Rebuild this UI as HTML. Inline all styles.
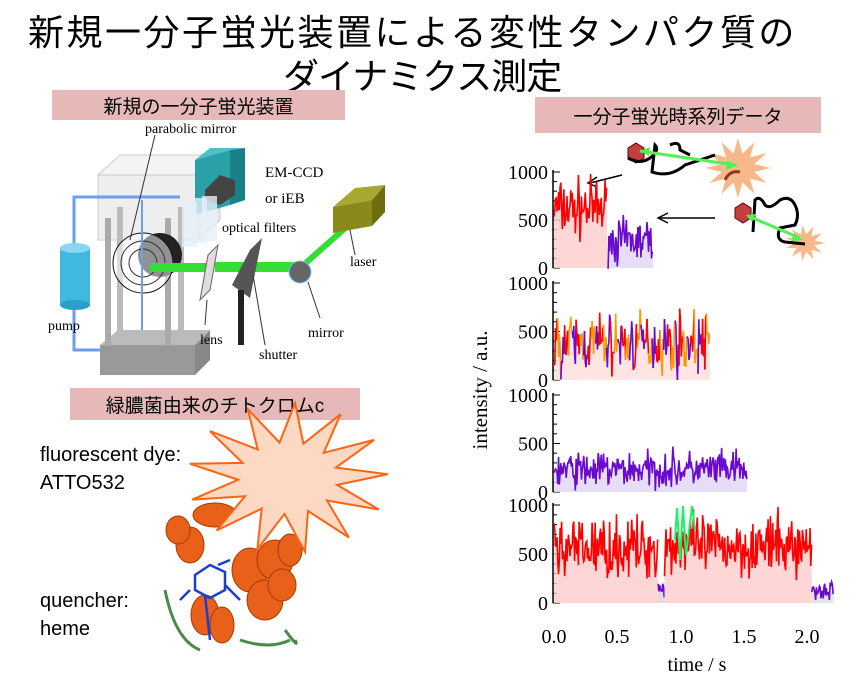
<!DOCTYPE html>
<html><head><meta charset="utf-8"><style>
body{margin:0;width:860px;height:677px;background:#fff;overflow:hidden;position:relative;font-family:"Liberation Sans","Noto Sans CJK JP",sans-serif}
.t{position:absolute;white-space:nowrap;color:#000}
.pk{position:absolute;background:#e6b9b8;font-size:19px;display:flex;align-items:center;justify-content:center}
</style></head><body>
<div class="t" style="left:28px;top:4px;font-size:36px;letter-spacing:2.5px">新規一分子蛍光装置による変性タンパク質の</div>
<div class="t" style="left:283px;top:48px;font-size:36px;letter-spacing:-1px">ダイナミクス測定</div>
<div class="pk" style="left:52px;top:90px;width:293px;height:30px">新規の一分子蛍光装置</div>
<div class="pk" style="left:535px;top:97px;width:286px;height:36px">一分子蛍光時系列データ</div>
<div class="pk" style="left:70px;top:388px;width:290px;height:32px">緑膿菌由来のチトクロムc</div>
<div class="t" style="left:40px;top:444px;font-size:20px">fluorescent dye:</div>
<div class="t" style="left:40px;top:472px;font-size:20px">ATTO532</div>
<div class="t" style="left:40px;top:590px;font-size:20px">quencher:</div>
<div class="t" style="left:40px;top:618px;font-size:20px">heme</div>
<svg id="s" width="860" height="677" style="position:absolute;left:0;top:0" font-family="Liberation Serif,serif">
<rect x="98" y="175" width="100" height="65" fill="#eee" stroke="#ccc"/>
<polygon points="98,175 120,155 220,155 198,175" fill="#f4f4f4" stroke="#ccc"/>
<polygon points="198,175 220,155 220,220 198,240" fill="#e8e8e8" stroke="#ccc"/>
<path d="M110,197 H180 M74,245 V197 H110 M74,300 V350 H100" stroke="#6d9eeb" stroke-width="3" fill="none"/>
<rect x="60" y="248" width="30" height="57" fill="#41b8e0"/><ellipse cx="75" cy="248" rx="15" ry="5" fill="#8ad6f0"/><ellipse cx="75" cy="305" rx="15" ry="5" fill="#2aa0c8"/>
<rect x="100" y="345" width="95" height="30" fill="#999"/><polygon points="100,345 118,330 210,330 195,345" fill="#bbb"/><polygon points="195,345 210,330 210,360 195,375" fill="#888"/>
<rect x="105" y="218" width="6" height="128" fill="#aaa"/><rect x="117" y="207" width="6" height="130" fill="#bbb"/><rect x="165" y="218" width="6" height="128" fill="#aaa"/><rect x="178" y="207" width="6" height="130" fill="#bbb"/>
<circle cx="160" cy="255" r="22" fill="#222"/>
<circle cx="143" cy="263" r="30" fill="#fff" fill-opacity=".5" stroke="#111"/><circle cx="143" cy="263" r="22" fill="none" stroke="#333"/><circle cx="143" cy="263" r="14" fill="none" stroke="#333"/>
<line x1="142" y1="200" x2="142" y2="330" stroke="#6d9eeb" stroke-width="2"/>
<line x1="155" y1="135" x2="130" y2="240" stroke="#333"/>
<polygon points="195,160 230,150 230,205 195,215" fill="#2aa0a8"/><polygon points="195,160 210,148 245,148 230,150" fill="#4cc0c6"/><polygon points="230,150 245,148 245,200 230,205" fill="#1a8088"/>
<polygon points="205,190 220,175 235,180 235,195 220,205 205,200" fill="#444"/>
<rect x="182" y="202" width="15" height="45" fill="#e5f0f8" opacity=".8"/><rect x="192" y="198" width="15" height="45" fill="#e5f0f8" opacity=".8"/><rect x="202" y="196" width="15" height="45" fill="#e5f0f8" opacity=".8"/>
<polygon points="150,263 210,263 210,272 150,272" fill="#33dd33"/>
<polygon points="215,262 300,262 300,272 215,272" fill="#33dd33"/>
<line x1="300" y1="268" x2="352" y2="222" stroke="#33dd33" stroke-width="6"/>
<polygon points="208,255 218,245 210,290 200,300" fill="#ddd" stroke="#666"/>
<polygon points="250,250 262,238 250,298 232,285" fill="#555"/><rect x="238" y="290" width="6" height="55" fill="#222"/>
<circle cx="300" cy="272" r="11" fill="#666" stroke="#6cf"/>
<polygon points="333,207 372,200 372,226 333,233" fill="#8a8a1a"/><polygon points="333,207 355,188 385,185 372,200" fill="#a8a830"/><polygon points="372,200 385,185 385,212 372,226" fill="#6e6e10"/>
<line x1="350" y1="230" x2="355" y2="255" stroke="#333"/><line x1="308" y1="282" x2="320" y2="318" stroke="#333"/><line x1="253" y1="275" x2="265" y2="345" stroke="#333"/><line x1="207" y1="300" x2="205" y2="325" stroke="#333"/>
<g font-size="14"><text x="145" y="133">parabolic mirror</text><text x="265" y="177" font-size="15">EM-CCD</text><text x="265" y="203" font-size="15">or iEB</text><text x="222" y="232">optical filters</text><text x="350" y="266">laser</text><text x="308" y="337">mirror</text><text x="259" y="359">shutter</text><text x="200" y="344">lens</text><text x="48" y="330">pump</text></g>
<!-- protein -->
<g fill="#e8601a" stroke="#a83a00" stroke-width="1">
<ellipse cx="215" cy="515" rx="22" ry="12"/><ellipse cx="190" cy="545" rx="14" ry="18"/><ellipse cx="178" cy="530" rx="12" ry="14"/>
<ellipse cx="250" cy="570" rx="18" ry="22"/><ellipse cx="275" cy="560" rx="18" ry="20"/><ellipse cx="265" cy="600" rx="18" ry="20"/><ellipse cx="290" cy="550" rx="12" ry="16"/><ellipse cx="282" cy="585" rx="14" ry="16"/>
<ellipse cx="205" cy="615" rx="14" ry="20"/><ellipse cx="222" cy="625" rx="12" ry="18"/></g>
<g stroke="#1a3fcc" stroke-width="2.5" fill="none"><path d="M195,575 L210,565 L225,572 L225,590 L210,598 L195,590 Z M205,595 L210,640 M218,565 L230,560 M190,590 L180,600 M225,585 L240,600"/></g>
<path d="M165,590 Q175,640 200,650 M285,630 Q300,650 295,640 M240,640 Q270,650 290,640" stroke="#4a8a4a" stroke-width="3" fill="none"/>
<polygon id="star" fill="#fdd8c2" stroke="#ff6314" stroke-width="2"/>
<polygon id="sb1" fill="#f9b88a"/><polygon id="sb2" fill="#f9b88a"/>
<polygon points="628,148 636,143 644,148 644,158 636,163 628,158" fill="#c04040" stroke="#600"/>
<polygon points="735,208 743,203 751,208 751,218 743,223 735,218" fill="#c04040" stroke="#600"/>
<path d="M628,158 Q640,165 650,158 Q660,150 655,145 L652,172 Q670,178 685,165 Q700,160 715,155" stroke="#000" stroke-width="3" fill="none"/>
<path d="M670,145 Q680,140 680,150 L690,155" stroke="#000" stroke-width="3" fill="none"/>
<path d="M740,172 Q730,170 725,180" stroke="#8a3a1a" stroke-width="3" fill="none"/>
<path d="M753,232 L755,200 Q760,195 765,205 Q770,210 780,200 Q790,195 795,205 Q800,215 795,225 L780,228 Q775,240 785,242 L805,244" stroke="#000" stroke-width="3" fill="none"/>
<line x1="640" y1="151" x2="735" y2="165" stroke="#55ee55" stroke-width="3"/><polygon points="640,151 650,147 649,156" fill="#55ee55"/><polygon points="738,165 727,161 726,170" fill="#55ee55"/>
<line x1="748" y1="216" x2="800" y2="238" stroke="#55ee55" stroke-width="3"/><polygon points="746,215 756,214 752,222" fill="#55ee55"/><polygon points="803,240 794,233 791,241" fill="#55ee55"/>
<line x1="622" y1="175" x2="590" y2="183" stroke="#000" stroke-width="1.5"/><polyline points="597,177 588,183 597,187" fill="none" stroke="#000" stroke-width="1.5"/>
<line x1="715" y1="218" x2="660" y2="218" stroke="#000" stroke-width="1.5"/><polyline points="668,213 658,218 668,223" fill="none" stroke="#000" stroke-width="1.5"/>
<g id="plots"></g>
<text x="487" y="390" font-size="21" transform="rotate(-90 487 390)" text-anchor="middle">intensity / a.u.</text>
<g font-size="20" text-anchor="middle"><text x="554" y="643">0.0</text><text x="617" y="643">0.5</text><text x="681" y="643">1.0</text><text x="744" y="643">1.5</text><text x="807" y="643">2.0</text><text x="697" y="671">time / s</text></g>
</svg>
<script>
function starPts(cx,cy,rx,ry,irx,iry,n,rot){let p=[];for(let i=0;i<2*n;i++){let a=rot+Math.PI*i/n;let o=i%2==0;p.push((cx+Math.cos(a)*(o?rx:irx)).toFixed(1)+','+(cy+Math.sin(a)*(o?ry:iry)).toFixed(1));}return p.join(' ');}
document.getElementById('star').setAttribute('points',starPts(288,478,100,75,50,36,13,-1.5));
document.getElementById('sb1').setAttribute('points',starPts(738,168,33,30,17,15,12,0));
document.getElementById('sb2').setAttribute('points',starPts(805,243,20,18,10,9,11,0));
let seed=7;function r(){seed=(seed*16807)%2147483647;return seed/2147483647;}
const g=document.getElementById('plots');let h='';
const panels=[[172,268,[[0,0.42,620,'#f00','#fcc'],[0.42,0.78,280,'#6a0ad0','#e0d4f4']]],
[283,380,[[0,1.23,380,'mix','#fdd']]],
[395,492,[[0,1.52,230,'#6a0ad0','#e0d4f4']]],
[505,603,[[0,0.82,560,'#f00','#fcc'],[0.82,0.87,150,'#6a0ad0','#dcd'],[0.87,2.03,580,'#f00','#fcc'],[2.03,2.2,130,'#6a0ad0','#ddd']]]];
const X=t=>554+t*127;
for(const [y1,y0,segs] of panels){const Y=v=>y0-(y0-y1)*v/1000;
 h+=`<line x1="553" y1="${y1-2}" x2="553" y2="${y0}" stroke="#000" stroke-width="1.5"/><line x1="553" y1="${y0}" x2="560" y2="${y0}" stroke="#000"/>`;
 for(let k=0;k<=10;k++){let yy=Y(k*100);h+=`<line x1="553" y1="${yy}" x2="${k%5==0?560:557}" y2="${yy}" stroke="#000"/>`;}
 h+=`<text x="548" y="${Y(0)+7}" font-size="20" text-anchor="end">0</text><text x="548" y="${Y(500)+7}" font-size="20" text-anchor="end">500</text><text x="548" y="${Y(1000)+7}" font-size="20" text-anchor="end">1000</text>`;
 for(const [a,b,m,c,f] of segs){let pts=[];for(let t=a;t<=b;t+=0.006){let u=(r()+r()+r())/3-0.5;let v=m+u*(m>450?900:m*2.4);v=Math.max(0,Math.min(980,v));pts.push([X(t),Y(v)]);}
  h+=`<polygon points="${X(a)},${y0} ${pts.map(p=>p.join(',')).join(' ')} ${X(b)},${y0}" fill="${f}" opacity="0.8"/>`;
  if(c=='mix'){const cs=['#f00','#f90','#6a0ad0'];for(let i=1;i<pts.length;i++){h+=`<line x1="${pts[i-1][0]}" y1="${pts[i-1][1]}" x2="${pts[i][0]}" y2="${pts[i][1]}" stroke="${cs[Math.floor(i/5)%3]}" stroke-width="1.6"/>`;}}
  else h+=`<polyline points="${pts.map(p=>p.join(',')).join(' ')}" fill="none" stroke="${c}" stroke-width="1.6"/>`;}
}
h+=`<polyline points="675,540 677,508 680,560 683,506 686,555 692,506 695,530" fill="none" stroke="#2e6" stroke-width="2"/>`;
g.innerHTML=h;
</script>
</body></html>
